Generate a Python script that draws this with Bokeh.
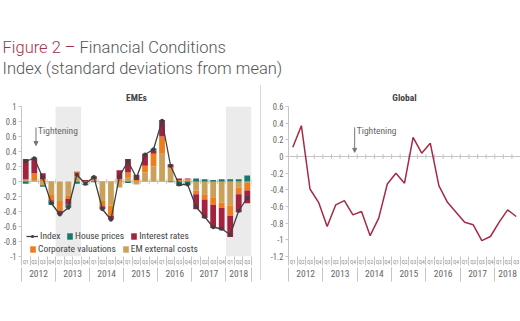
import numpy as np
from bokeh.plotting import figure
from bokeh.models import (Range1d, FixedTicker, LinearAxis, BoxAnnotation, Legend, LegendItem,
                          Arrow, NormalHead, Label, Span, Spacer)
from bokeh.layouts import column, row
from bokeh.embed import file_html
from bokeh.resources import INLINE

# ---------------- data ----------------
years = ["2012", "2013", "2014", "2015", "2016", "2017", "2018"]
quarters_per_year = [4, 4, 4, 4, 4, 4, 3]
quarter_labels = ["Q1", "Q2", "Q3", "Q4"] * 6 + ["Q1", "Q2", "Q3"]

# EMEs components (contributions, standard deviations)
house_prices = [-0.03, 0.01, -0.02, -0.04, 0.00, -0.04, -0.03, -0.02, -0.01, 0.00, 0.00, 0.00,
                -0.02, 0.00, 0.00, 0.03, 0.00, -0.01, -0.06, -0.05, 0.04, 0.03, 0.02, 0.03,
                0.03, 0.03, 0.08]
interest_rates = [0.27, 0.20, 0.08, -0.02, -0.05, -0.08, 0.01, 0.02, 0.04, -0.04, -0.05, 0.12,
                  0.18, 0.07, 0.16, 0.04, 0.22, 0.04, 0.02, 0.01, -0.20, -0.25, -0.31, -0.30,
                  -0.28, -0.24, -0.17]
corporate_valuations = [0.01, 0.09, 0.03, -0.08, -0.13, -0.04, 0.05, 0.00, 0.01, -0.07, -0.14, 0.03,
                        0.06, 0.02, 0.09, 0.17, 0.22, 0.02, 0.02, 0.02, -0.05, -0.07, -0.10, -0.07,
                        -0.14, -0.09, -0.10]
em_external_costs = [0.02, 0.02, -0.05, -0.17, -0.26, -0.19, 0.07, -0.03, 0.02, -0.26, -0.32, -0.08,
                     0.06, -0.04, 0.12, 0.20, 0.38, 0.17, 0.00, 0.01, -0.12, -0.17, -0.21, -0.28,
                     -0.32, -0.08, -0.02]
eme_index = [0.27, 0.31, 0.05, -0.29, -0.44, -0.35, 0.09, -0.03, 0.06, -0.37, -0.51, 0.07,
             0.27, 0.05, 0.36, 0.43, 0.81, 0.21, -0.04, -0.04, -0.34, -0.47, -0.61, -0.63,
             -0.71, -0.39, -0.22]

global_index = [0.11, 0.37, -0.39, -0.55, -0.84, -0.58, -0.53, -0.70, -0.66, -0.95, -0.74, -0.33,
                -0.20, -0.32, 0.23, 0.04, 0.16, -0.35, -0.55, -0.67, -0.79, -0.82, -1.01, -0.96,
                -0.79, -0.64, -0.72]

eme_yticks = [-1, -0.8, -0.6, -0.4, -0.2, 0, 0.2, 0.4, 0.6, 0.8, 1]
global_yticks = [-1.2, -1, -0.8, -0.6, -0.4, -0.2, 0, 0.2, 0.4, 0.6]

shaded_periods = [(4, 6), (24, 26)]          # quarter indices (2013Q1-Q3, 2018Q1-Q3)
eme_tightening_q = 1                          # 2012Q2
global_tightening_q = 7                       # 2013Q4

# ---------------- style ----------------
FONT = "'Roboto Condensed', Roboto"
TFONT = "'Roboto Light', Roboto"
TXT = "#666666"
LINE = "#c4c4c4"
C_TEAL = "#127a70"
C_RED = "#a3223f"
C_ORANGE = "#ee7d1e"
C_TAN = "#caa15a"
C_INDEX = "#3f3f3f"
C_GLOBAL = "#a52a45"
C_TITLE_RED = "#a8324e"
C_TITLE = "#555555"

n = len(quarter_labels)
xc = np.arange(n) + 0.5
bounds = list(range(n + 1))
year_starts = np.concatenate([[0], np.cumsum(quarters_per_year)])
year_centers = [(year_starts[i] + year_starts[i + 1]) / 2 for i in range(len(years))]


def make_panel(title, y_lo, y_hi, yticks, width, left, right, title_offset):
    p = figure(width=width, height=241, x_range=Range1d(0, n), y_range=Range1d(y_lo, y_hi),
               output_backend="svg", toolbar_location=None,
               x_axis_location=None, y_axis_location=None,
               min_border_left=left, min_border_right=right,
               min_border_top=26, min_border_bottom=65,
               outline_line_color=None, background_fill_color="white",
               border_fill_color="white", title=title)
    p.grid.visible = False
    p.title.align = "center"
    p.title.text_font = FONT
    p.title.text_font_size = "9.5px"
    p.title.text_font_style = "bold"
    p.title.text_color = "#444444"
    p.title.standoff = 8
    p.title.offset = title_offset

    yax = LinearAxis(ticker=FixedTicker(ticks=yticks),
                     major_label_overrides={t: f"{t:g}" for t in yticks})
    yax.axis_line_color = LINE
    yax.major_tick_line_color = LINE
    yax.major_tick_out = 3
    yax.major_tick_in = 0
    yax.minor_tick_line_color = None
    yax.major_label_text_font = FONT
    yax.major_label_text_font_size = "8.5px"
    yax.major_label_text_color = TXT
    yax.major_label_standoff = 2
    p.add_layout(yax, "left")

    # quarter row: separators at quarter boundaries, labels at quarter centres
    qax = LinearAxis(ticker=FixedTicker(ticks=list(xc), minor_ticks=bounds),
                     major_label_overrides={float(x): q for x, q in zip(xc, quarter_labels)})
    qax.axis_line_color = None
    qax.major_tick_line_color = None
    qax.major_tick_out = 9
    qax.major_tick_in = 0
    qax.minor_tick_line_color = LINE
    qax.minor_tick_out = 9
    qax.minor_tick_in = 0
    qax.major_label_text_font = FONT
    qax.major_label_text_font_size = "5.5px"
    qax.major_label_text_color = "#888888"
    qax.major_label_standoff = -7
    p.add_layout(qax, "below")

    # year row: separators at year boundaries, labels at year centres
    yrax = LinearAxis(ticker=FixedTicker(ticks=year_centers, minor_ticks=list(year_starts)),
                      major_label_overrides={float(c): y for c, y in zip(year_centers, years)})
    yrax.axis_line_color = None
    yrax.major_tick_line_color = None
    yrax.major_tick_out = 14
    yrax.major_tick_in = 0
    yrax.minor_tick_line_color = LINE
    yrax.minor_tick_out = 14
    yrax.minor_tick_in = 0
    yrax.major_label_text_font = FONT
    yrax.major_label_text_font_size = "9.5px"
    yrax.major_label_text_color = TXT
    yrax.major_label_standoff = -12
    p.add_layout(yrax, "below")

    # zero line with category ticks
    p.add_layout(Span(location=0, dimension="width", line_color=LINE, line_width=1, level="underlay"))
    p.scatter(x=bounds, y=[0] * len(bounds), marker="dash", angle=np.pi / 2, size=5,
              line_color=LINE, line_width=1, level="underlay")
    return p


# ---------------- EMEs panel ----------------
pl = make_panel("EMEs", -1, 1, eme_yticks, 260, 16, 9, -6)
for a, b in shaded_periods:
    pl.add_layout(BoxAnnotation(left=a, right=b + 1, fill_color="#ebebeb", fill_alpha=1,
                                line_color=None, level="underlay"))

stack = [("EM external costs", em_external_costs, C_TAN),
         ("Corporate valuations", corporate_valuations, C_ORANGE),
         ("Interest rates", interest_rates, C_RED),
         ("House prices", house_prices, C_TEAL)]
pos_base = np.zeros(n)
neg_base = np.zeros(n)
bar_r = {}
for name, vals, col in stack:
    v = np.array(vals, dtype=float)
    bottom = np.where(v >= 0, pos_base, neg_base)
    top = bottom + v
    pos_base = np.where(v >= 0, top, pos_base)
    neg_base = np.where(v < 0, top, neg_base)
    bar_r[name] = pl.vbar(x=xc, bottom=bottom, top=top, width=0.68, fill_color=col, line_color=None)

idx_line = pl.line(xc, eme_index, line_color=C_INDEX, line_width=1.3)
idx_pts = pl.scatter(xc, eme_index, size=4, fill_color=C_INDEX, line_color=None)

leg_style = dict(orientation="horizontal", background_fill_alpha=0, border_line_color=None,
                 label_text_font=FONT, label_text_font_size="9.5px", label_text_color="#444444",
                 padding=0, margin=0, spacing=6, label_standoff=2, label_height=9,
                 glyph_height=8, glyph_width=7)
leg_a = Legend(items=[LegendItem(label="Index", renderers=[idx_line, idx_pts])],
               location=(5, 15), **{**leg_style, "glyph_width": 12})
leg_b = Legend(items=[LegendItem(label="House prices", renderers=[bar_r["House prices"]]),
                      LegendItem(label="Interest rates", renderers=[bar_r["Interest rates"]])],
               location=(45, 15), **leg_style)
leg_c = Legend(items=[LegendItem(label="Corporate valuations", renderers=[bar_r["Corporate valuations"]]),
                      LegendItem(label="EM external costs", renderers=[bar_r["EM external costs"]])],
               location=(8, 2), **leg_style)
for lg in (leg_a, leg_b, leg_c):
    pl.add_layout(lg)

xq = xc[eme_tightening_q]
pl.add_layout(Arrow(end=NormalHead(size=4, fill_color="#777777", line_color="#777777"),
                    x_start=xq + 0.2, y_start=0.72, x_end=xq + 0.2, y_end=0.48,
                    line_color="#777777", line_width=1))
pl.add_layout(Label(x=xq + 0.45, y=0.68, text="Tightening", text_font=FONT, text_font_size="9.5px",
                    text_color=TXT, text_baseline="middle"))

# ---------------- Global panel ----------------
pr = make_panel("Global", -1.2, 0.6, global_yticks, 259, 27, 0, -9)
pr.line(xc, global_index, line_color=C_GLOBAL, line_width=1.5)
xg = xc[global_tightening_q]
pr.add_layout(Arrow(end=NormalHead(size=4, fill_color="#777777", line_color="#777777"),
                    x_start=xg + 0.2, y_start=0.35, x_end=xg + 0.2, y_end=0.05,
                    line_color="#777777", line_width=1))
pr.add_layout(Label(x=xg + 0.45, y=0.31, text="Tightening", text_font=FONT, text_font_size="9.5px",
                    text_color=TXT, text_baseline="middle"))

sep = Spacer(width=1, height=195, margin=(5, 0, 0, 0), styles={"background-color": "#d9d9d9"})

# ---------------- title ----------------
tp = figure(width=520, height=80, x_range=Range1d(0, 520), y_range=Range1d(0, 80),
            output_backend="svg", toolbar_location=None, x_axis_location=None,
            y_axis_location=None, min_border=0, outline_line_color=None)
tp.grid.visible = False
tp.add_layout(Label(x=2, y=33.3, text="Figure 2 –", text_font=TFONT, text_font_size="16.5px",
                    text_color=C_TITLE_RED, text_baseline="middle"))
tp.add_layout(Label(x=79, y=33.3, text="Financial Conditions", text_font=TFONT, text_font_size="16.5px",
                    text_color=C_TITLE, text_baseline="middle"))
tp.add_layout(Label(x=2, y=12, text="Index (standard deviations from mean)", text_font=TFONT,
                    text_font_size="16.5px", text_color=C_TITLE, text_baseline="middle"))

layout = column(tp, row(pl, sep, pr))
open("out.html", "w").write(file_html(layout, INLINE))
